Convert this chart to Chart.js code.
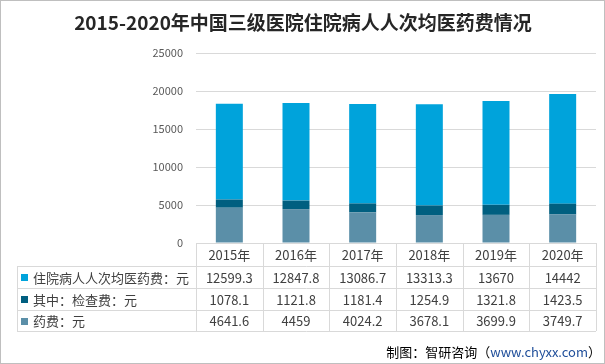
<!DOCTYPE html>
<html>
<head>
<meta charset="utf-8">
<script src="https://cdn.jsdelivr.net/npm/chart.js@4"></script>
<style>
  html, body { margin: 0; padding: 0; background: #fff; }
  canvas { display: block; }
</style>
</head>
<body>
<canvas id="chart" width="605" height="364"></canvas>
<script>
const FONT = '"Noto Sans CJK SC", "Noto Sans", sans-serif'

const years = ["2015年", "2016年", "2017年", "2018年", "2019年", "2020年"]
const rowLabels = ["住院病人人次均医药费：元", "其中：检查费：元", "药费：元"]
const inpatientCost = [12599.3, 12847.8, 13086.7, 13313.3, 13670, 14442]
const examCost = [1078.1, 1121.8, 1181.4, 1254.9, 1321.8, 1423.5]
const drugCost = [4641.6, 4459, 4024.2, 3678.1, 3699.9, 3749.7]

const COLORS = ["#00a3db", "#005f80", "#5b8fa8"]
const rowValues = [inpatientCost, examCost, drugCost]

// title, data table under the axis, footer and frame
const decorations = {
  id: "decorations",
  afterDraw(chart) {
    const ctx = chart.ctx
    const area = chart.chartArea
    const n = years.length
    const cw = (area.right - area.left) / n
    const tableLeft = 17
    const headerBottom = 266
    const rowTops = [266, 288, 310, 331]

    ctx.save()

    // title
    ctx.fillStyle = "#262626"
    ctx.font = "bold 19px " + FONT
    ctx.textAlign = "center"
    ctx.textBaseline = "middle"
    ctx.fillText("2015-2020年中国三级医院住院病人人次均医药费情况", 303, 23)

    // table grid
    ctx.strokeStyle = "#d9d9d9"
    ctx.lineWidth = 1
    ctx.beginPath()
    ctx.moveTo(area.left, area.bottom + 0.5)
    ctx.lineTo(area.right, area.bottom + 0.5)
    for (const y of rowTops) {
      ctx.moveTo(tableLeft, y + 0.5)
      ctx.lineTo(area.right, y + 0.5)
    }
    ctx.moveTo(tableLeft + 0.5, headerBottom)
    ctx.lineTo(tableLeft + 0.5, rowTops[3])
    for (let i = 0; i <= n; i++) {
      const x = Math.round(area.left + i * cw) + 0.5
      ctx.moveTo(x, area.bottom)
      ctx.lineTo(x, rowTops[3])
    }
    ctx.stroke()

    // header years
    ctx.fillStyle = "#404040"
    ctx.font = "13px " + FONT
    ctx.textAlign = "center"
    years.forEach((yr, i) => {
      ctx.fillText(yr, chart.scales.x.getPixelForValue(i), (area.bottom + headerBottom) / 2 + 1)
    })

    // rows
    rowLabels.forEach((label, r) => {
      const yc = (rowTops[r] + rowTops[r + 1]) / 2 + 1
      ctx.fillStyle = COLORS[r]
      ctx.fillRect(21, Math.round(yc - 4), 7, 7)
      ctx.fillStyle = "#404040"
      ctx.textAlign = "left"
      ctx.fillText(label, 33, yc)
      ctx.textAlign = "center"
      rowValues[r].forEach((v, i) => {
        ctx.fillText(String(v), chart.scales.x.getPixelForValue(i), yc)
      })
    })

    // footer
    ctx.font = "13px " + FONT
    ctx.textAlign = "left"
    const parts = [["制图：智研咨询（", "#000"], ["www.chyxx.com", "#1f4e9a"], ["）", "#000"]]
    const total = parts.reduce((s, p) => s + ctx.measureText(p[0]).width, 0)
    let x = 601 - total
    for (const [txt, col] of parts) {
      ctx.fillStyle = col
      ctx.fillText(txt, x, 352)
      x += ctx.measureText(txt).width
    }

    // frame
    ctx.strokeStyle = "#bfbfbf"
    ctx.strokeRect(0.5, 0.5, chart.width - 1, chart.height - 1)
    ctx.restore()
  },
}

new Chart(document.getElementById("chart"), {
  type: "bar",
  data: {
    labels: years,
    datasets: [
      { label: rowLabels[2], data: drugCost, backgroundColor: COLORS[2] },
      { label: rowLabels[1], data: examCost, backgroundColor: COLORS[1] },
      { label: rowLabels[0], data: inpatientCost, backgroundColor: COLORS[0] },
    ],
  },
  options: {
    responsive: false,
    animation: false,
    devicePixelRatio: 1,
    barPercentage: 0.405,
    categoryPercentage: 1,
    layout: { padding: { top: 53, right: 9, left: 0, bottom: 0 } },
    plugins: { legend: { display: false }, tooltip: { enabled: false } },
    scales: {
      x: {
        stacked: true,
        grid: { display: false },
        border: { display: false },
        ticks: { display: false },
        afterFit: (s) => { s.height = 121 },
      },
      y: {
        stacked: true,
        min: 0,
        max: 25000,
        ticks: {
          stepSize: 5000,
          color: "#595959",
          font: { size: 11, family: FONT },
          padding: 13,
          callback: (v) => String(v),
        },
        grid: { color: "#d9d9d9", drawTicks: false },
        border: { display: false },
        afterFit: (s) => { s.width = 196 },
      },
    },
  },
  plugins: [decorations],
})
</script>
</body>
</html>
